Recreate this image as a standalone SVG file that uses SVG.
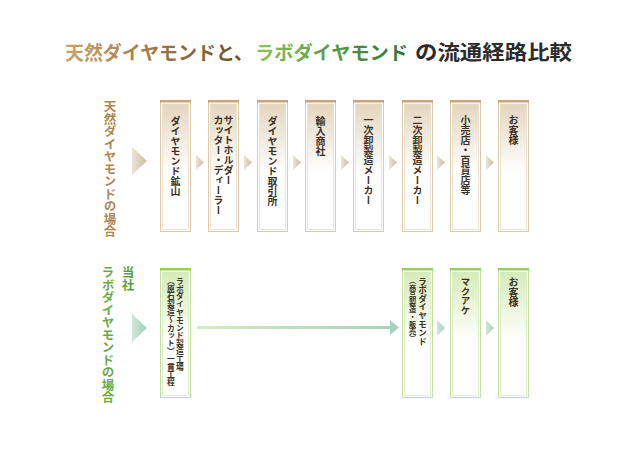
<svg xmlns="http://www.w3.org/2000/svg" width="640" height="452" viewBox="0 0 640 452">
<defs>
<linearGradient id="gTitleB" x1="0" y1="0" x2="1" y2="0"><stop offset="0" stop-color="#c9a46c"/><stop offset="1" stop-color="#6e4a1e"/></linearGradient>
<linearGradient id="gTitleG" x1="0" y1="0" x2="1" y2="0"><stop offset="0" stop-color="#8cc35c"/><stop offset="1" stop-color="#2c7434"/></linearGradient>
<linearGradient id="gLabB" x1="0" y1="0" x2="0" y2="1"><stop offset="0" stop-color="#b08850"/><stop offset="1" stop-color="#6e4a1e"/></linearGradient>
<linearGradient id="gLabG" x1="0" y1="0" x2="0" y2="1"><stop offset="0" stop-color="#6aab44"/><stop offset="1" stop-color="#2f7f34"/></linearGradient>
<linearGradient id="gBoxB" x1="0" y1="0" x2="0" y2="1"><stop offset="0" stop-color="#e4d6bf"/><stop offset="0.55" stop-color="#ffffff"/></linearGradient>
<linearGradient id="gBoxG" x1="0" y1="0" x2="0" y2="1"><stop offset="0" stop-color="#d6ebb8"/><stop offset="0.55" stop-color="#ffffff"/></linearGradient>
<linearGradient id="gArrB" x1="0" y1="0" x2="1" y2="0"><stop offset="0" stop-color="#ebe5da"/><stop offset="1" stop-color="#cbbca4"/></linearGradient>
<linearGradient id="gArrG" x1="0" y1="0" x2="1" y2="0"><stop offset="0" stop-color="#cfe7d6"/><stop offset="1" stop-color="#a6d0bd"/></linearGradient>
<linearGradient id="gLine" x1="197" y1="0" x2="392" y2="0" gradientUnits="userSpaceOnUse"><stop offset="0" stop-color="#d6ebc0"/><stop offset="1" stop-color="#a9d1bd"/></linearGradient>
</defs>
<style>
.t{font-family:"Noto Sans CJK JP","Noto Sans CJK SC",sans-serif;font-weight:700}
.v{writing-mode:vertical-rl;font-family:"Noto Sans CJK JP","Noto Sans CJK SC",sans-serif;font-weight:700;fill:#3b3024}
.bo{fill:#fff;stroke:#dccaa9;stroke-width:1}
.bt{fill:#c6a679}
.bi{fill:url(#gBoxB);stroke:#e8dcc8;stroke-width:0.8}
.go{fill:#fff;stroke:#c4e09c;stroke-width:1}
.gt{fill:#9ccb62}
.gi{fill:url(#gBoxG);stroke:#d8ecc0;stroke-width:0.8}
.ab{fill:url(#gArrB)}
.ag{fill:url(#gArrG)}
</style>
<rect width="640" height="452" fill="#fff"/>

<g id="title" class="t" font-size="19">
<text x="65" y="60" fill="url(#gTitleB)" textLength="188" lengthAdjust="spacingAndGlyphs">天然ダイヤモンドと、</text>
<text x="255" y="60" fill="url(#gTitleG)" textLength="153" lengthAdjust="spacingAndGlyphs">ラボダイヤモンド</text>
<text x="415" y="60" fill="#2b2b2b" font-size="20" textLength="157" lengthAdjust="spacingAndGlyphs">の流通経路比較</text>
</g>

<g id="label-natural">
<text class="v" x="110" y="100" font-size="12.5" style="fill:url(#gLabB)">天然ダイヤモンドの場合</text>
</g>
<g id="label-lab">
<text class="v" x="128" y="266" font-size="12.5" style="fill:url(#gLabG)">当社</text>
<text class="v" x="108" y="266" font-size="12.5" style="fill:url(#gLabG)">ラボダイヤモンドの場合</text>
</g>

<g id="n1">
<rect class="bo" x="160.5" y="100.5" width="30" height="131"/><rect class="bt" x="160" y="100" width="31" height="2.5"/><rect class="bi" x="162.5" y="104" width="26" height="125.5"/>
<text class="v" x="175.5" y="116" font-size="10">ダイヤモンド鉱山</text>
</g>
<g id="n2">
<rect class="bo" x="208.5" y="100.5" width="30" height="131"/><rect class="bt" x="208" y="100" width="31" height="2.5"/><rect class="bi" x="210.5" y="104" width="26" height="125.5"/>
<text class="v" x="228.5" y="115" font-size="10">サイトホルダー</text>
<text class="v" x="218.5" y="115" font-size="10">カッター・ディーラー</text>
</g>
<g id="n3">
<rect class="bo" x="257.5" y="100.5" width="30" height="131"/><rect class="bt" x="257" y="100" width="31" height="2.5"/><rect class="bi" x="259.5" y="104" width="26" height="125.5"/>
<text class="v" x="272.5" y="116" font-size="10">ダイヤモンド取引所</text>
</g>
<g id="n4">
<rect class="bo" x="305.5" y="100.5" width="30" height="131"/><rect class="bt" x="305" y="100" width="31" height="2.5"/><rect class="bi" x="307.5" y="104" width="26" height="125.5"/>
<text class="v" x="320.5" y="116" font-size="10">輸入商社</text>
</g>
<g id="n5">
<rect class="bo" x="353.5" y="100.5" width="30" height="131"/><rect class="bt" x="353" y="100" width="31" height="2.5"/><rect class="bi" x="355.5" y="104" width="26" height="125.5"/>
<text class="v" x="368.5" y="115" font-size="10">一次卸製造メーカー</text>
</g>
<g id="n6">
<rect class="bo" x="402.5" y="100.5" width="30" height="131"/><rect class="bt" x="402" y="100" width="31" height="2.5"/><rect class="bi" x="404.5" y="104" width="26" height="125.5"/>
<text class="v" x="417.5" y="115" font-size="10">二次卸製造メーカー</text>
</g>
<g id="n7">
<rect class="bo" x="450.5" y="100.5" width="30" height="131"/><rect class="bt" x="450" y="100" width="31" height="2.5"/><rect class="bi" x="452.5" y="104" width="26" height="125.5"/>
<text class="v" x="465.5" y="115" font-size="10">小売店・百貨店等</text>
</g>
<g id="n8">
<rect class="bo" x="498.5" y="100.5" width="30" height="131"/><rect class="bt" x="498" y="100" width="31" height="2.5"/><rect class="bi" x="500.5" y="104" width="26" height="125.5"/>
<text class="v" x="513.5" y="115" font-size="10">お客様</text>
</g>

<g id="m1">
<rect class="go" x="160.5" y="268.5" width="30" height="129"/><rect class="gt" x="160" y="268" width="31" height="2.5"/><rect class="gi" x="162.5" y="272" width="26" height="123.5"/>
<text class="v" x="180" y="277" font-size="7.8">ラボダイヤモンド製造工場</text>
<text class="v" x="171" y="277" font-size="7.8">（原石製造〜カット）一貫工程</text>
</g>
<g id="m2">
<rect class="go" x="402.5" y="268.5" width="30" height="129"/><rect class="gt" x="402" y="268" width="31" height="2.5"/><rect class="gi" x="404.5" y="272" width="26" height="123.5"/>
<text class="v" x="422.5" y="277" font-size="8.6">ラボダイヤモンド</text>
<text class="v" x="412.5" y="277" font-size="7.2">（商品製造・販売）</text>
</g>
<g id="m3">
<rect class="go" x="450.5" y="268.5" width="30" height="129"/><rect class="gt" x="450" y="268" width="31" height="2.5"/><rect class="gi" x="452.5" y="272" width="26" height="123.5"/>
<text class="v" x="465.5" y="277" font-size="9.5">マクアケ</text>
</g>
<g id="m4">
<rect class="go" x="498.5" y="268.5" width="30" height="129"/><rect class="gt" x="498" y="268" width="31" height="2.5"/><rect class="gi" x="500.5" y="272" width="26" height="123.5"/>
<text class="v" x="513.5" y="277" font-size="10">お客様</text>
</g>

<g id="connectors">
<polygon class="ab" points="132,147 147,161 132,175"/>
<polygon class="ab" points="196,155 204,162.5 196,170"/>
<polygon class="ab" points="244,155 252,162.5 244,170"/>
<polygon class="ab" points="293,155 301,162.5 293,170"/>
<polygon class="ab" points="341,155 349,162.5 341,170"/>
<polygon class="ab" points="389,155 397,162.5 389,170"/>
<polygon class="ab" points="437,155 445,162.5 437,170"/>
<polygon class="ab" points="486,155 494,162.5 486,170"/>
<polygon class="ag" points="132,314 147,328 132,342"/>
<rect x="197" y="326" width="194" height="3" fill="url(#gLine)"/>
<polygon fill="#a9d1bf" points="390,320 399,327.5 390,335"/>
<polygon class="ag" points="437,320 445,328 437,336"/>
<polygon class="ag" points="486,320 494,328 486,336"/>
</g>
</svg>
